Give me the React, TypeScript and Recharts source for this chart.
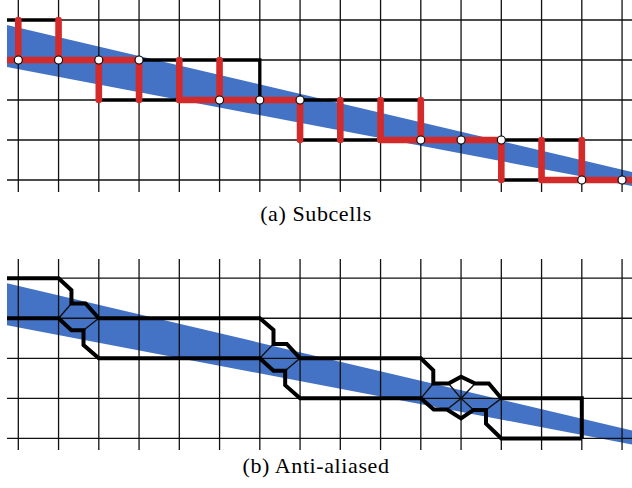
import React from 'react';
import { ComposedChart, XAxis, YAxis, Line, Area, Scatter } from 'recharts';

// ---- grid (data units: columns / rows of the pixel grid) ----
const X_MIN = -0.281;
const X_MAX = 15.247;
const columns = [0, 1, 2, 3, 4, 5, 6, 7, 8, 9, 10, 11, 12, 13, 14, 15];
const rows = [0, 1, 2, 3, 4];

// ---- blue band (straight edges) ----
const bandX = [X_MIN, X_MAX];
const bandTop = [0.125, 3.8];
const bandBottom = [1.175, 4.15];

// ---- (a) Subcells ----
const subUpper: [number, number][] = [
  [X_MIN, 0], [1, 0], [1, 1], [6, 1], [6, 2], [10, 2], [10, 3], [14, 3], [14, 4],
];
const subLower: [number, number][] = [
  [X_MIN, 1], [2, 1], [2, 2], [7, 2], [7, 3], [12, 3], [12, 4], [14, 4],
];
// [column, fromRow, toRow]
const redVertical: [number, number, number][] = [
  [0, 0, 1], [1, 0, 1], [2, 1, 2], [3, 1, 2], [4, 1, 2], [5, 1, 2],
  [7, 2, 3], [8, 2, 3], [9, 2, 3], [10, 2, 3], [12, 3, 4], [13, 3, 4], [14, 3, 4],
];
// [row, fromColumn, toColumn]
const redHorizontal: [number, number, number][] = [
  [1, X_MIN, 3], [2, 4, 7], [3, 9, 12], [4, 13, X_MAX],
];
const sampleDots: [number, number][] = [
  [0, 1], [1, 1], [2, 1], [3, 1], [5, 2], [6, 2], [7, 2],
  [10, 3], [11, 3], [12, 3], [14, 4], [15, 4],
];

// ---- (b) Anti-aliased ----
const aaUpper: [number, number][] = [
  [X_MIN, 0], [1, 0], [1.32, 0.3], [1.32, 0.63], [1.67, 0.63], [2, 1],
  [6, 1], [6.34, 1.29], [6.34, 1.64], [6.67, 1.64], [7, 2],
  [10, 2], [10.31, 2.3], [10.31, 2.63], [10.69, 2.63], [11, 2.46], [11.35, 2.63], [11.69, 2.63], [12, 3],
  [14, 3], [14, 4],
];
const aaLower: [number, number][] = [
  [X_MIN, 1], [1, 1], [1.32, 1.3], [1.62, 1.3], [1.62, 1.67], [2, 2],
  [6, 2], [6.34, 2.31], [6.63, 2.31], [6.63, 2.67], [7, 3],
  [10, 3], [10.32, 3.28], [10.65, 3.28], [11, 3.5], [11.31, 3.29], [11.62, 3.29], [11.62, 3.63], [12, 4],
  [14, 4],
];
const aaThin: [number, number][][] = [
  [[1, 1], [1.32, 0.63]],
  [[1.62, 1.3], [2, 1]],
  [[6, 2], [6.34, 1.64]],
  [[6.63, 2.31], [7, 2]],
  [[10, 3], [10.31, 2.63]],
  [[10.69, 2.63], [11, 3], [11.35, 2.63]],
  [[10.65, 3.28], [11, 3], [11.31, 3.29]],
  [[11.62, 3.29], [12, 3]],
];

const captionA = '(a) Subcells';
const captionB = '(b) Anti-aliased';

const BLUE = '#4472c4';
const RED = '#d42a2a';
const INK = '#111';

const toPts = (pts: [number, number][]) => pts.map(([x, y]) => ({ x, y }));
const bandData = bandX.map((x, i) => ({ x, band: [bandTop[i], bandBottom[i]] }));

const lineCommon = {
  dataKey: 'y',
  dot: false,
  activeDot: false,
  isAnimationActive: false,
  legendType: 'none' as const,
};

function Dot(props: any) {
  const { cx, cy } = props;
  return <circle cx={cx} cy={cy} r={4} fill="#fff" stroke="#000" strokeWidth={1.1} />;
}

function Panel({ height, yMin, yMax, children }: { height: number; yMin: number; yMax: number; children: React.ReactNode }) {
  return (
    <ComposedChart width={632} height={height} margin={{ top: 0, right: 0, left: 7, bottom: 0 }}>
      <XAxis type="number" dataKey="x" domain={[X_MIN, X_MAX]} allowDataOverflow hide />
      <YAxis type="number" dataKey="y" domain={[yMin, yMax]} reversed allowDataOverflow hide />
      <Area
        data={bandData}
        dataKey="band"
        type="linear"
        stroke="none"
        fill={BLUE}
        fillOpacity={1}
        isAnimationActive={false}
        activeDot={false}
      />
      {columns.map((c) => (
        <Line key={'gc' + c} {...lineCommon} data={[{ x: c, y: yMin }, { x: c, y: yMax }]} stroke={INK} strokeWidth={1.3} />
      ))}
      {rows.map((r) => (
        <Line key={'gr' + r} {...lineCommon} data={[{ x: X_MIN, y: r }, { x: X_MAX, y: r }]} stroke={INK} strokeWidth={1.3} />
      ))}
      {children}
    </ComposedChart>
  );
}

export default function App() {
  return (
    <div style={{ position: 'absolute', left: 0, top: 0, width: 632, height: 488, background: '#fff' }}>
      <div style={{ position: 'absolute', left: 0, top: 0 }}>
        <Panel height={192} yMin={-0.5} yMax={4.3}>
          <Line {...lineCommon} data={toPts(subUpper)} stroke="#000" strokeWidth={3.3} strokeLinejoin="miter" />
          <Line {...lineCommon} data={toPts(subLower)} stroke="#000" strokeWidth={3.3} strokeLinejoin="miter" />
          {redVertical.map(([c, a, b], i) => (
            <Line key={'rv' + i} {...lineCommon} data={[{ x: c, y: a }, { x: c, y: b }]} stroke={RED} strokeWidth={6.6} strokeLinecap="round" />
          ))}
          {redHorizontal.map(([r, a, b], i) => (
            <Line key={'rh' + i} {...lineCommon} data={[{ x: a, y: r }, { x: b, y: r }]} stroke={RED} strokeWidth={6.6} strokeLinecap="round" />
          ))}
          <Scatter data={toPts(sampleDots)} dataKey="y" shape={<Dot />} isAnimationActive={false} />
        </Panel>
      </div>
      <div style={{ position: 'absolute', left: 0, top: 259 }}>
        <Panel height={191} yMin={-0.48} yMax={4.29}>
          {aaThin.map((seg, i) => (
            <Line key={'th' + i} {...lineCommon} data={toPts(seg)} stroke={INK} strokeWidth={1.4} />
          ))}
          <Line {...lineCommon} data={toPts(aaUpper)} stroke="#000" strokeWidth={4} strokeLinejoin="miter" />
          <Line {...lineCommon} data={toPts(aaLower)} stroke="#000" strokeWidth={4} strokeLinejoin="miter" />
        </Panel>
      </div>
      <div style={{ position: 'absolute', left: 0, top: 203, width: 632, textAlign: 'center', fontFamily: "'Liberation Serif', serif", fontSize: 22, lineHeight: '22px', letterSpacing: 0.6, color: '#000' }}>
        {captionA}
      </div>
      <div style={{ position: 'absolute', left: 0, top: 455, width: 632, textAlign: 'center', fontFamily: "'Liberation Serif', serif", fontSize: 22, lineHeight: '22px', letterSpacing: 0.6, color: '#000' }}>
        {captionB}
      </div>
    </div>
  );
}
